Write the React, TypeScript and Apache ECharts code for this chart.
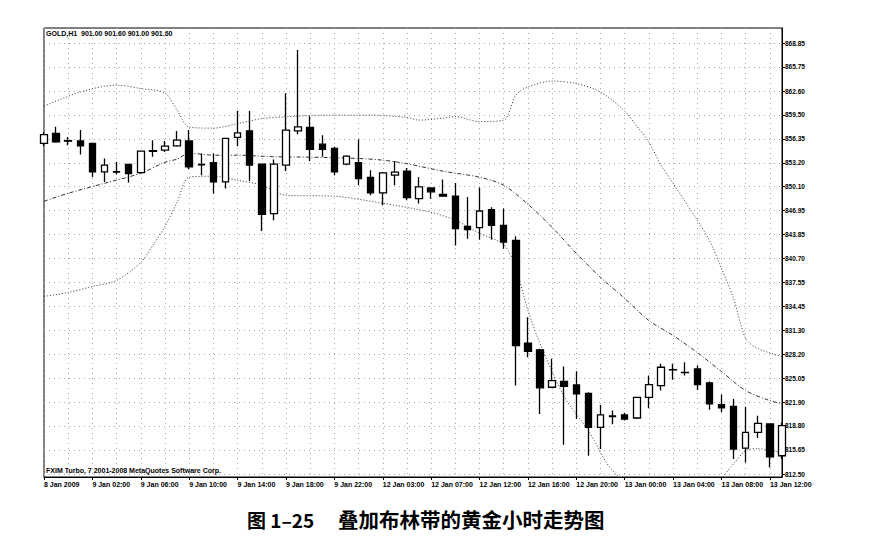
import React, { useEffect, useRef } from "react";
import * as echarts from "echarts";

const categories = [
  "8 Jan 22:00", "8 Jan 23:00", "9 Jan 00:00", "9 Jan 01:00", "9 Jan 02:00", "9 Jan 03:00", "9 Jan 04:00", "9 Jan 05:00",
  "9 Jan 06:00", "9 Jan 07:00", "9 Jan 08:00", "9 Jan 09:00", "9 Jan 10:00", "9 Jan 11:00", "9 Jan 12:00", "9 Jan 13:00",
  "9 Jan 14:00", "9 Jan 15:00", "9 Jan 16:00", "9 Jan 17:00", "9 Jan 18:00", "9 Jan 19:00", "9 Jan 20:00", "9 Jan 21:00",
  "9 Jan 22:00", "9 Jan 23:00", "12 Jan 01:00", "12 Jan 02:00", "12 Jan 03:00", "12 Jan 04:00", "12 Jan 05:00", "12 Jan 06:00",
  "12 Jan 07:00", "12 Jan 08:00", "12 Jan 09:00", "12 Jan 11:00", "12 Jan 12:00", "12 Jan 13:00", "12 Jan 14:00", "12 Jan 15:00",
  "12 Jan 16:00", "12 Jan 17:00", "12 Jan 18:00", "12 Jan 19:00", "12 Jan 20:00", "12 Jan 21:00", "12 Jan 22:00", "12 Jan 23:00",
  "13 Jan 00:00", "13 Jan 01:00", "13 Jan 02:00", "13 Jan 03:00", "13 Jan 04:00", "13 Jan 05:00", "13 Jan 06:00", "13 Jan 07:00",
  "13 Jan 08:00", "13 Jan 09:00", "13 Jan 10:00", "13 Jan 11:00", "13 Jan 12:00", "13 Jan 13:00",
];

const xTickLabels = [
  "8 Jan 2009", "9 Jan 02:00", "9 Jan 06:00", "9 Jan 10:00", "9 Jan 14:00", "9 Jan 18:00", "9 Jan 22:00", "12 Jan 03:00",
  "12 Jan 07:00", "12 Jan 12:00", "12 Jan 16:00", "12 Jan 20:00", "13 Jan 00:00", "13 Jan 04:00", "13 Jan 08:00", "13 Jan 12:00",
];

const yTickValues = [
  812.5, 815.65, 818.8, 821.9, 825.05, 828.2, 831.3, 834.45, 837.55, 840.7,
  843.85, 846.95, 850.1, 853.2, 856.35, 859.5, 862.6, 865.75, 868.85,
];

const opens = [
  855.75, 857.05, 856.1, 856.08, 855.74, 852.02, 852.0, 853.0, 851.94, 854.7,
  854.87, 855.43, 856.08, 853.0, 853.25, 850.71, 856.53, 857.4, 853.03, 846.57,
  852.9, 857.4, 857.84, 855.65, 855.09, 853.03, 853.25, 851.29, 849.27, 851.59,
  852.11, 848.54, 849.93, 849.07, 848.84, 844.9, 844.74, 847.09, 845.04, 843.07,
  829.61, 828.75, 823.85, 824.63, 824.16, 823.06, 818.6, 820.0, 820.23, 819.83,
  822.53, 824.07, 826.12, 825.77, 826.25, 824.42, 821.58, 821.35, 815.9, 817.95,
  819.05, 814.89,
];
const closes = [
  856.9, 855.95, 856.05, 855.43, 852.02, 852.9, 852.05, 851.81, 854.73, 854.8,
  855.39, 856.18, 852.68, 852.95, 850.71, 856.4, 857.13, 852.9, 846.48, 853.03,
  857.49, 857.92, 854.97, 854.96, 852.02, 854.1, 851.16, 849.27, 851.89, 852.0,
  848.67, 850.06, 849.42, 848.85, 844.6, 844.47, 846.91, 845.04, 842.85, 829.31,
  828.56, 823.77, 824.73, 823.97, 822.98, 818.6, 820.23, 820.1, 819.7, 822.52,
  824.2, 826.47, 826.15, 825.8, 824.2, 821.67, 821.15, 815.77, 817.95, 819.13,
  814.76, 818.82,
];
const lows = [
  855.4, 855.85, 855.5, 854.3, 851.37, 850.71, 851.68, 850.63, 851.9, 854.0,
  854.64, 855.3, 852.37, 851.59, 849.19, 849.85, 855.39, 850.84, 844.29, 845.69,
  852.15, 856.96, 853.46, 854.0, 851.59, 852.9, 850.28, 848.97, 847.66, 850.28,
  848.31, 847.88, 848.51, 848.8, 842.41, 843.29, 843.16, 843.16, 841.98, 824.07,
  827.77, 820.36, 823.8, 816.33, 819.7, 814.89, 815.77, 819.0, 819.5, 819.7,
  821.12, 823.41, 824.82, 825.38, 823.5, 820.92, 820.57, 814.46, 814.01, 817.21,
  813.36, 814.5,
];
const highs = [
  857.2, 857.92, 856.6, 857.49, 855.8, 853.78, 853.33, 853.05, 854.8, 856.18,
  856.08, 857.36, 857.49, 854.43, 854.43, 856.5, 860.02, 859.98, 853.1, 853.65,
  862.3, 867.97, 859.32, 856.83, 855.3, 854.2, 856.27, 852.25, 852.0, 853.46,
  852.55, 851.37, 850.0, 851.03, 850.58, 848.75, 849.98, 847.4, 847.22, 843.6,
  833.02, 828.9, 827.57, 826.56, 825.94, 823.2, 821.54, 820.8, 820.5, 822.6,
  825.38, 826.91, 826.91, 827.12, 826.69, 824.6, 822.89, 822.32, 821.31, 820.13,
  819.1, 819.2,
];

// Bollinger bands read at selected candles (candle index, price)
const upperIdx = [0, 3, 6, 8, 10, 11, 12, 14, 16, 18, 20, 23, 27, 30, 31, 33, 34, 36, 38, 39, 40, 42, 44, 46, 48, 49, 50, 51, 52, 54, 55, 56, 57, 58, 59, 61];
const upperVals = [
  860.63, 862.47, 863.38, 862.93, 862.34, 860.11, 857.88, 857.75, 858.34, 858.99,
  859.23, 859.45, 859.45, 859.15, 858.8, 859.06, 859.26, 858.6, 858.8, 862.07,
  863.12, 863.91, 863.58, 862.47, 859.98, 858.01, 855.91, 852.9, 850.54, 845.69,
  843.07, 839.4, 835.47, 830.23, 828.92, 827.87,
];
const middleIdx = [0, 2, 5, 8, 10, 11, 12, 14, 16, 19, 22, 26, 28, 30, 33, 36, 38, 40, 42, 44, 46, 48, 50, 52, 54, 56, 58, 60, 61];
const middleVals = [
  848.18, 849.23, 850.54, 851.85, 853.29, 853.69, 854.47, 854.21, 854.21, 854.01,
  853.95, 853.78, 853.56, 853.1, 852.11, 851.33, 850.28, 847.79, 844.77, 841.37,
  838.22, 835.47, 832.58, 830.62, 828.39, 825.9, 823.41, 822.1, 821.71,
];
const lowerIdx = [0, 2, 4, 6, 8, 9, 10, 11, 12, 14, 16, 18, 20, 24, 28, 32, 34, 36, 38, 39, 40, 41, 43, 45, 47, 50, 54, 57, 58, 59, 61];
const lowerVals = [
  835.73, 836.25, 837.04, 837.83, 840.19, 842.42, 844.91, 848.05, 851.33, 851.46,
  850.93, 850.28, 848.97, 848.84, 847.92, 846.74, 845.69, 843.99, 842.5, 839.4,
  833.9, 829.57, 822.62, 818.17, 812.93, 809.65, 809.0, 813.85, 815.55, 815.81,
  815.29,
];

export default function App() {
  const ref = useRef<HTMLDivElement>(null);

  useEffect(() => {
    if (!ref.current) return;
    const chart = echarts.init(ref.current, undefined, { renderer: "svg" });
    const small = { fontFamily: "Liberation Sans", fontWeight: "bold" as const, color: "#000" };
    const bandLine = (idx: number[], vals: number[], type: any) => ({
      type: "line",
      data: idx.map((k, i) => [k, vals[i]]),
      symbol: "none",
      smooth: 0.3,
      clip: true,
      z: 2,
      silent: true,
      lineStyle: { color: "#333", width: 1, type },
    });
    chart.setOption({
      animation: false,
      backgroundColor: "#fff",
      grid: {
        left: 44,
        right: 99,
        top: 28,
        bottom: 67,
        show: true,
        borderColor: "#000",
        borderWidth: 1,
      },
      xAxis: {
        type: "category",
        data: categories,
        boundaryGap: false,
        axisLine: { show: true, lineStyle: { color: "#000", width: 1 } },
        axisTick: { show: true, interval: 3, length: 3, lineStyle: { color: "#000" } },
        axisLabel: {
          ...small,
          interval: 3,
          fontSize: 7,
          margin: 4,
          align: "left",
          formatter: (_v: string, i: number) => xTickLabels[Math.round(i / 4)] ?? "",
        },
        splitLine: { show: true, interval: 1, lineStyle: { color: "#a8a8a8", width: 1, type: [1, 4] } },
      },
      yAxis: {
        type: "value",
        position: "right",
        min: 812.11,
        max: 870.85,
        scale: true,
        axisLine: { show: true, lineStyle: { color: "#000", width: 1 } },
        axisTick: { show: true, length: 3, customValues: yTickValues, lineStyle: { color: "#000" } },
        axisLabel: {
          ...small,
          fontSize: 6.5,
          margin: 3,
          customValues: yTickValues,
          formatter: (v: number) => v.toFixed(2),
        },
        splitLine: { show: true, lineStyle: { color: "#a8a8a8", width: 1, type: [1, 4] } },
      },
      series: [
        bandLine(upperIdx, upperVals, [1, 2]),
        bandLine(middleIdx, middleVals, [4, 2, 1, 2]),
        bandLine(lowerIdx, lowerVals, [1, 2]),
        {
          type: "candlestick",
          data: opens.map((o, i) => [o, closes[i], lows[i], highs[i]]),
          barWidth: 7,
          clip: true,
          z: 3,
          itemStyle: {
            color: "#fff",
            color0: "#000",
            borderColor: "#000",
            borderColor0: "#000",
            borderWidth: 1.3,
          },
        },
      ],
      graphic: [
        {
          type: "text",
          x: 46,
          y: 33,
          style: {
            text: "GOLD,H1  901.00 901.60 901.00 901.60",
            fontSize: 7,
            fontWeight: "bold",
            fontFamily: "Liberation Sans",
            fill: "#000",
            verticalAlign: "middle",
          },
        },
        {
          type: "text",
          x: 46,
          y: 470,
          style: {
            text: "FXIM Turbo, 7 2001-2008 MetaQuotes Software Corp.",
            fontSize: 7,
            fontWeight: "bold",
            fontFamily: "Liberation Sans",
            fill: "#000",
            verticalAlign: "middle",
          },
        },
        {
          type: "text",
          x: 247,
          y: 519,
          style: {
            text: "图 1–25",
            fontSize: 19,
            fontWeight: "bold",
            fontFamily: "Noto Sans CJK SC",
            fill: "#000",
            verticalAlign: "middle",
          },
        },
        {
          type: "text",
          x: 338,
          y: 519,
          style: {
            text: "叠加布林带的黄金小时走势图",
            fontSize: 20.5,
            fontWeight: "bold",
            fontFamily: "Noto Sans CJK SC",
            fill: "#000",
            verticalAlign: "middle",
          },
        },
      ],
    });
    return () => chart.dispose();
  }, []);

  return (
    <div
      ref={ref}
      style={{ position: "absolute", left: 0, top: 0, width: 881, height: 544, background: "#fff" }}
    />
  );
}
